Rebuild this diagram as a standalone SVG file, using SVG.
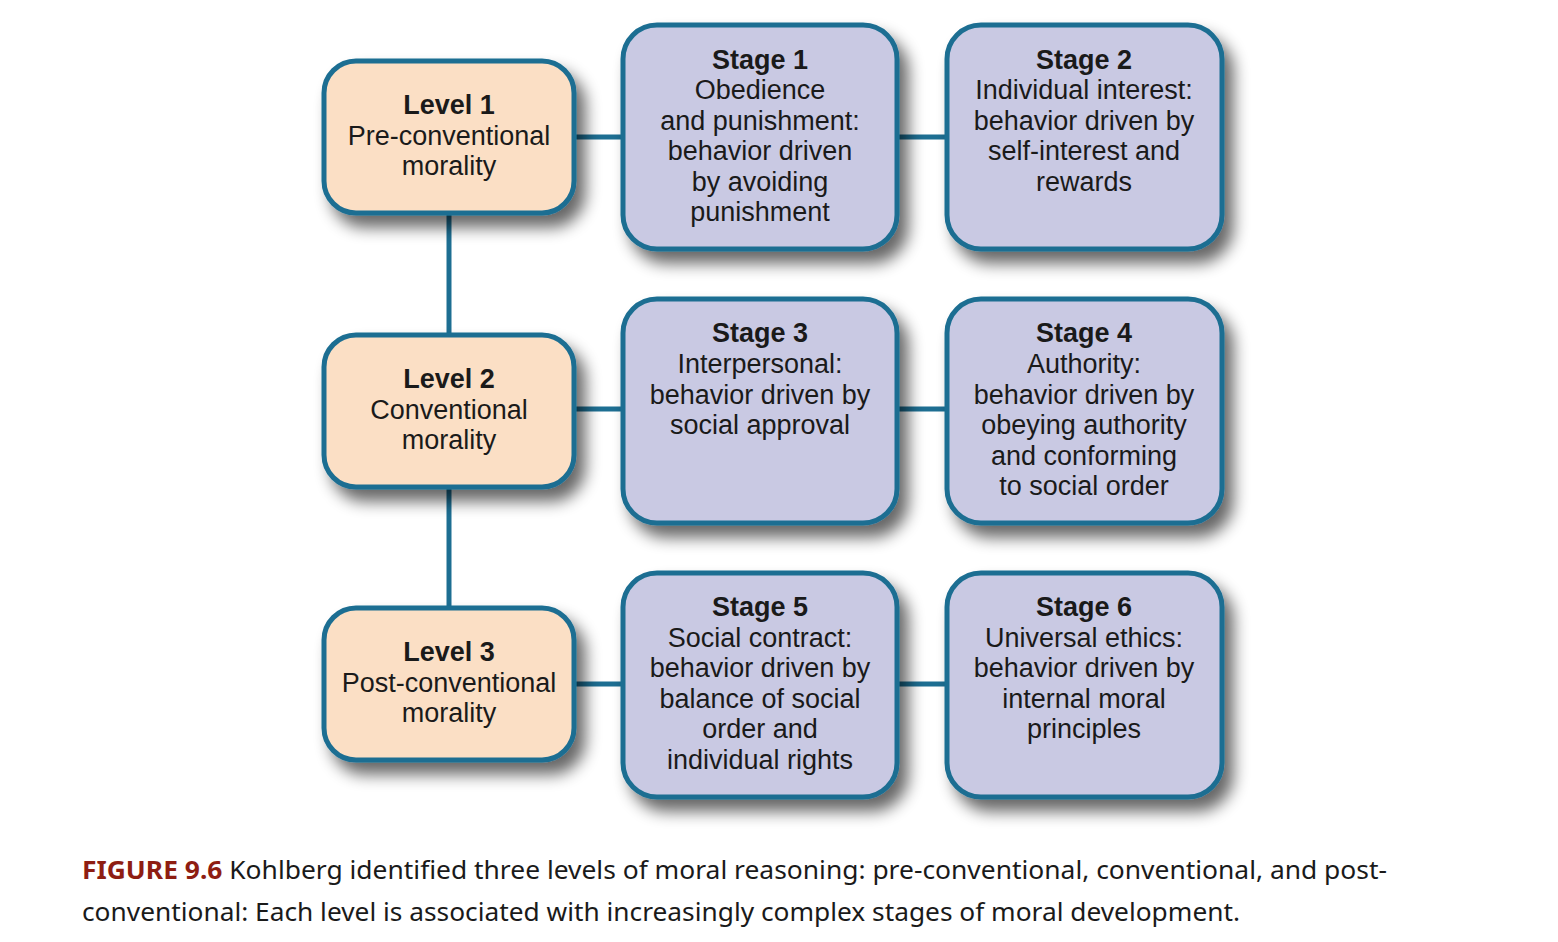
<svg xmlns="http://www.w3.org/2000/svg" width="1558" height="942" viewBox="0 0 1558 942">
<defs>
<filter id="sh" x="-25%" y="-25%" width="160%" height="160%">
<feGaussianBlur in="SourceAlpha" stdDeviation="8"/>
<feOffset dx="9" dy="12" result="b"/>
<feComponentTransfer><feFuncA type="linear" slope="0.6"/></feComponentTransfer>
<feMerge><feMergeNode/><feMergeNode in="SourceGraphic"/></feMerge>
</filter>
<style>
.lvl{fill:#fbdfc5;stroke:#1d6e92;stroke-width:5;filter:url(#sh)}
.stg{fill:#c9c9e3;stroke:#1d6e92;stroke-width:5;filter:url(#sh)}
.con{stroke:#1d6e92;stroke-width:5;fill:none}
text{font-family:"Liberation Sans",Arial,sans-serif;font-size:27px;fill:#1a1a1a;text-anchor:middle}
.b{font-weight:bold}
.cap{font-family:"Noto Sans","Open Sans",sans-serif;font-size:25px;text-anchor:start;fill:#1a1a1a}
.fig{fill:#8e1d12;font-weight:bold}
</style>
</defs>
<rect width="1558" height="942" fill="#ffffff"/>
<g id="connectors">
<line class="con" x1="449" y1="213" x2="449" y2="334"/>
<line class="con" x1="449" y1="487" x2="449" y2="607"/>
<line class="con" x1="575" y1="137" x2="622" y2="137"/>
<line class="con" x1="898" y1="137" x2="946" y2="137"/>
<line class="con" x1="575" y1="409" x2="622" y2="409"/>
<line class="con" x1="898" y1="409" x2="946" y2="409"/>
<line class="con" x1="575" y1="684" x2="622" y2="684"/>
<line class="con" x1="898" y1="684" x2="946" y2="684"/>
</g>
<g id="level1">
<rect class="lvl" x="324" y="61" width="250" height="152" rx="32"/>
<text x="449" y="114" class="b">Level 1</text>
<text x="449" y="145">Pre-conventional</text>
<text x="449" y="175">morality</text>
</g>
<g id="level2">
<rect class="lvl" x="324" y="335" width="250" height="152" rx="32"/>
<text x="449" y="388" class="b">Level 2</text>
<text x="449" y="419">Conventional</text>
<text x="449" y="449">morality</text>
</g>
<g id="level3">
<rect class="lvl" x="324" y="608" width="250" height="152" rx="32"/>
<text x="449" y="661" class="b">Level 3</text>
<text x="449" y="692">Post-conventional</text>
<text x="449" y="722">morality</text>
</g>
<g id="stage1">
<rect class="stg" x="623" y="25" width="274" height="224" rx="34"/>
<text x="760" y="69" class="b">Stage 1</text>
<text x="760" y="99">Obedience</text>
<text x="760" y="130">and punishment:</text>
<text x="760" y="160">behavior driven</text>
<text x="760" y="191">by avoiding</text>
<text x="760" y="221">punishment</text>
</g>
<g id="stage2">
<rect class="stg" x="947" y="25" width="275" height="224" rx="34"/>
<text x="1084" y="69" class="b">Stage 2</text>
<text x="1084" y="99">Individual interest:</text>
<text x="1084" y="130">behavior driven by</text>
<text x="1084" y="160">self-interest and</text>
<text x="1084" y="191">rewards</text>
</g>
<g id="stage3">
<rect class="stg" x="623" y="299" width="274" height="224" rx="34"/>
<text x="760" y="342" class="b">Stage 3</text>
<text x="760" y="373">Interpersonal:</text>
<text x="760" y="404">behavior driven by</text>
<text x="760" y="434">social approval</text>
</g>
<g id="stage4">
<rect class="stg" x="947" y="299" width="275" height="224" rx="34"/>
<text x="1084" y="342" class="b">Stage 4</text>
<text x="1084" y="373">Authority:</text>
<text x="1084" y="404">behavior driven by</text>
<text x="1084" y="434">obeying authority</text>
<text x="1084" y="465">and conforming</text>
<text x="1084" y="495">to social order</text>
</g>
<g id="stage5">
<rect class="stg" x="623" y="573" width="274" height="224" rx="34"/>
<text x="760" y="616" class="b">Stage 5</text>
<text x="760" y="647">Social contract:</text>
<text x="760" y="677">behavior driven by</text>
<text x="760" y="708">balance of social</text>
<text x="760" y="738">order and</text>
<text x="760" y="769">individual rights</text>
</g>
<g id="stage6">
<rect class="stg" x="947" y="573" width="275" height="224" rx="34"/>
<text x="1084" y="616" class="b">Stage 6</text>
<text x="1084" y="647">Universal ethics:</text>
<text x="1084" y="677">behavior driven by</text>
<text x="1084" y="708">internal moral</text>
<text x="1084" y="738">principles</text>
</g>
<g id="caption">
<text class="cap" x="82" y="879" textLength="1305" lengthAdjust="spacingAndGlyphs"><tspan class="fig">FIGURE 9.6</tspan> Kohlberg identified three levels of moral reasoning: pre-conventional, conventional, and post-</text>
<text class="cap" x="82" y="921" textLength="1158" lengthAdjust="spacingAndGlyphs">conventional: Each level is associated with increasingly complex stages of moral development.</text>
</g>
</svg>
